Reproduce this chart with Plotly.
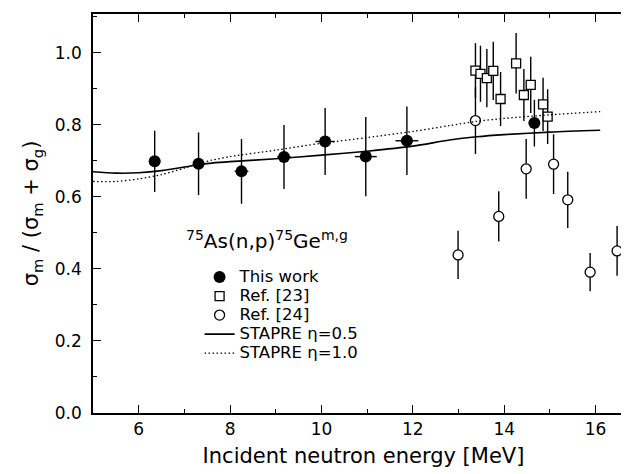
import plotly.graph_objects as go

# This work (filled circles)
this_x = [6.35, 7.31, 8.25, 9.18, 10.08, 10.97, 11.87, 14.66]
this_y = [0.699, 0.692, 0.671, 0.711, 0.754, 0.712, 0.756, 0.805]
this_dy = [0.085, 0.087, 0.090, 0.089, 0.093, 0.110, 0.095, 0.065]
this_dx = [0.12, 0.12, 0.15, 0.15, 0.21, 0.24, 0.25, 0.12]

# Ref. [23] (open squares)
ref23_x = [13.37, 13.48, 13.62, 13.76, 13.92, 14.26, 14.43, 14.58, 14.85, 14.95]
ref23_y = [0.951, 0.942, 0.930, 0.950, 0.872, 0.971, 0.883, 0.911, 0.857, 0.823]
ref23_dy = [0.076, 0.078, 0.081, 0.081, 0.075, 0.084, 0.072, 0.078, 0.074, 0.076]

# Ref. [24] (open circles)
ref24_x = [12.99, 13.37, 13.88, 14.48, 15.08, 15.39, 15.88, 16.47]
ref24_y = [0.439, 0.812, 0.546, 0.678, 0.691, 0.592, 0.391, 0.450]
ref24_dy = [0.067, 0.093, 0.070, 0.083, 0.083, 0.078, 0.053, 0.069]

# STAPRE calculations
stapre_x = [5.0, 5.5, 6.0, 6.5, 7.0, 7.3, 7.6, 8.0, 9.0, 10.0, 11.0, 12.0, 12.8, 13.4, 14.0, 15.0, 16.1]
eta05 = [0.670, 0.666, 0.667, 0.673, 0.683, 0.690, 0.694, 0.698, 0.706, 0.716, 0.727, 0.741, 0.758, 0.767, 0.773, 0.780, 0.785]
eta10 = [0.643, 0.643, 0.650, 0.662, 0.680, 0.692, 0.702, 0.712, 0.730, 0.749, 0.765, 0.782, 0.798, 0.810, 0.818, 0.828, 0.837]

FONT = "DejaVu Sans, Arial, sans-serif"
LS = 16.5  # visible legend text size


def lab(t):
    return '<span style="font-size:%spx">%s</span>' % (LS, t)


fig = go.Figure()

fig.add_trace(go.Scatter(
    x=this_x, y=this_y, mode="markers", name=lab("This work"),
    marker=dict(symbol="circle", size=12, color="black", line=dict(width=0)),
    error_y=dict(type="data", array=this_dy, visible=True, color="black", thickness=1.4, width=0),
    error_x=dict(type="data", array=this_dx, visible=True, color="black", thickness=1.4, width=0),
))
fig.add_trace(go.Scatter(
    x=ref23_x, y=ref23_y, mode="markers", name=lab("Ref. [23]"),
    marker=dict(symbol="square", size=9, color="white", line=dict(width=1.3, color="black")),
    error_y=dict(type="data", array=ref23_dy, visible=True, color="black", thickness=1.4, width=0),
))
fig.add_trace(go.Scatter(
    x=ref24_x, y=ref24_y, mode="markers", name=lab("Ref. [24]"),
    marker=dict(symbol="circle", size=10, color="white", line=dict(width=1.3, color="black")),
    error_y=dict(type="data", array=ref24_dy, visible=True, color="black", thickness=1.4, width=0),
))
fig.add_trace(go.Scatter(
    x=stapre_x, y=eta05, mode="lines", name=lab("STAPRE \u03b7=0.5"),
    line=dict(color="black", width=1.6, shape="spline", smoothing=0.8),
))
fig.add_trace(go.Scatter(
    x=stapre_x, y=eta10, mode="lines", name=lab("STAPRE \u03b7=1.0"),
    line=dict(color="black", width=1.3, dash="1.5px,2.5px", shape="spline", smoothing=0.8),
))

fig.add_annotation(
    x=7.0, y=0.481, xref="x", yref="y", xanchor="left", yanchor="middle",
    text="<sup>75</sup>As(n,p)<sup>75</sup>Ge<sup>m,g</sup>", showarrow=False,
    font=dict(size=20, color="black", family=FONT),
)

axis_common = dict(
    showline=True, linecolor="black", linewidth=1.5, mirror="allticks",
    ticks="inside", ticklen=8, tickwidth=1.3, tickcolor="black",
    showgrid=False, zeroline=False, automargin=False,
    tickfont=dict(size=17, color="black", family=FONT),
)

fig.update_xaxes(
    range=[5.0, 16.84], dtick=2, tick0=0,
    minor=dict(dtick=1, ticks="inside", ticklen=4, tickcolor="black", tickwidth=1.2),
    title=dict(text="Incident neutron energy [MeV]", font=dict(size=21, color="black", family=FONT), standoff=10),
    **axis_common,
)
fig.update_yaxes(
    range=[0, 1.108], dtick=0.2, tick0=0, tickformat=".1f",
    minor=dict(dtick=0.1, ticks="inside", ticklen=4, tickcolor="black", tickwidth=1.2),
    ticklabelstandoff=6,
    title=dict(text="\u03c3<sub>m</sub> / (\u03c3<sub>m</sub> + \u03c3<sub>g</sub>)", font=dict(size=21, color="black", family=FONT), standoff=10),
    **axis_common,
)

fig.update_layout(
    width=629, height=474,
    margin=dict(l=85, r=3, t=6, b=69),
    paper_bgcolor="white", plot_bgcolor="white",
    font=dict(family=FONT, color="black"),
    showlegend=True,
    legend=dict(
        x=0.197, y=0.377, xanchor="left", yanchor="top",
        bgcolor="rgba(0,0,0,0)", borderwidth=0,
        font=dict(size=12, color="black", family=FONT),
        tracegroupgap=0,
    ),
)

fig.write_html("out.html")
